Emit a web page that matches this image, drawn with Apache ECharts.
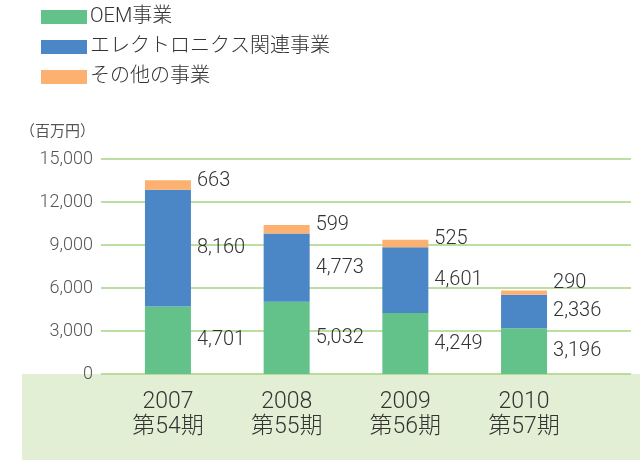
<!DOCTYPE html>
<html>
<head>
<meta charset="utf-8">
<script src="https://cdn.jsdelivr.net/npm/echarts@6/dist/echarts.min.js"></script>
<style>
  html, body { margin: 0; padding: 0; background: #fff; }
  #chart { width: 644px; height: 460px; }
</style>
</head>
<body>
<div id="chart"></div>
<script>
// 年度・期
const years = ['2007', '2008', '2009', '2010'];
const periods = ['第54期', '第55期', '第56期', '第57期'];
// 事業別売上（百万円）
const oem = [4701, 5032, 4249, 3196];
const electronics = [8160, 4773, 4601, 2336];
const others = [663, 599, 525, 290];
const seriesNames = ['OEM事業', 'エレクトロニクス関連事業', 'その他の事業'];
const yTicks = [0, 3000, 6000, 9000, 12000, 15000];

const font = 'Roboto, "Noto Sans CJK JP", sans-serif';
const colors = ['#63C28A', '#4B86C6', '#FDB170'];

const chart = echarts.init(document.getElementById('chart'));

const fmt = (v) => v.toLocaleString('en-US');

const makeSeries = (name, values, color, idx) => ({
  name,
  type: 'bar',
  stack: 'total',
  xAxisIndex: 1,
  yAxisIndex: 1,
  barWidth: 46,
  itemStyle: { color },
  label: {
    show: true,
    position: 'right',
    distance: 6,
    color: '#333',
    fontFamily: font,
    fontSize: 20,
    fontWeight: 300,
    formatter: (p) => fmt(p.value),
  },
  // その他は少し上にずらす（2010は大きめ）
  data: values.map((v, i) => idx === 2
    ? { value: v, label: { offset: [0, i === 3 ? -10 : -4] } }
    : v),
});

const option = {
  animation: false,
  textStyle: { fontFamily: font },
  legend: {
    orient: 'vertical',
    left: 36,
    top: 2,
    itemWidth: 46,
    itemHeight: 14,
    itemGap: 10,
    icon: 'rect',
    textStyle: { fontSize: 20, fontWeight: 300, color: '#333', padding: [0, 0, 0, -2] },
    data: seriesNames,
  },
  graphic: [
    {
      type: 'rect',
      z: -10,
      shape: { x: 22, y: 374, width: 618, height: 86 },
      style: { fill: '#E3EFD5' },
    },
  ],
  grid: [
    // 目盛り・補助線用
    { left: 101, right: 13, top: 159, bottom: 86 },
    // 棒グラフ用
    { left: 108.6, right: 60.6, top: 159, bottom: 86 },
  ],
  xAxis: [
    { type: 'category', gridIndex: 0, data: years, show: false },
    {
      type: 'category',
      gridIndex: 1,
      data: years,
      axisLine: { show: false },
      axisTick: { show: false },
      axisLabel: {
        margin: 16,
        fontSize: 23,
        fontWeight: 300,
        lineHeight: 25,
        color: '#333',
        formatter: (v, i) => v + '\n' + periods[i],
      },
    },
  ],
  yAxis: [
    {
      type: 'value',
      gridIndex: 0,
      min: yTicks[0],
      max: yTicks[yTicks.length - 1],
      interval: 3000,
      name: '（百万円）',
      nameLocation: 'end',
      nameGap: 19,
      nameTextStyle: { fontSize: 15, color: '#555', align: 'right', padding: [0, 6, 0, 0] },
      axisLine: { show: false },
      axisTick: { show: false },
      axisLabel: { fontSize: 18, fontWeight: 300, color: '#555', margin: 8, formatter: fmt },
      splitLine: { lineStyle: { color: '#A6D482', width: 1.5 } },
    },
    {
      type: 'value',
      gridIndex: 1,
      min: yTicks[0],
      max: yTicks[yTicks.length - 1],
      interval: 3000,
      show: false,
      splitLine: { show: false },
    },
  ],
  series: [
    makeSeries(seriesNames[0], oem, colors[0], 0),
    makeSeries(seriesNames[1], electronics, colors[1], 1),
    makeSeries(seriesNames[2], others, colors[2], 2),
  ],
};

chart.setOption(option);
</script>
</body>
</html>
